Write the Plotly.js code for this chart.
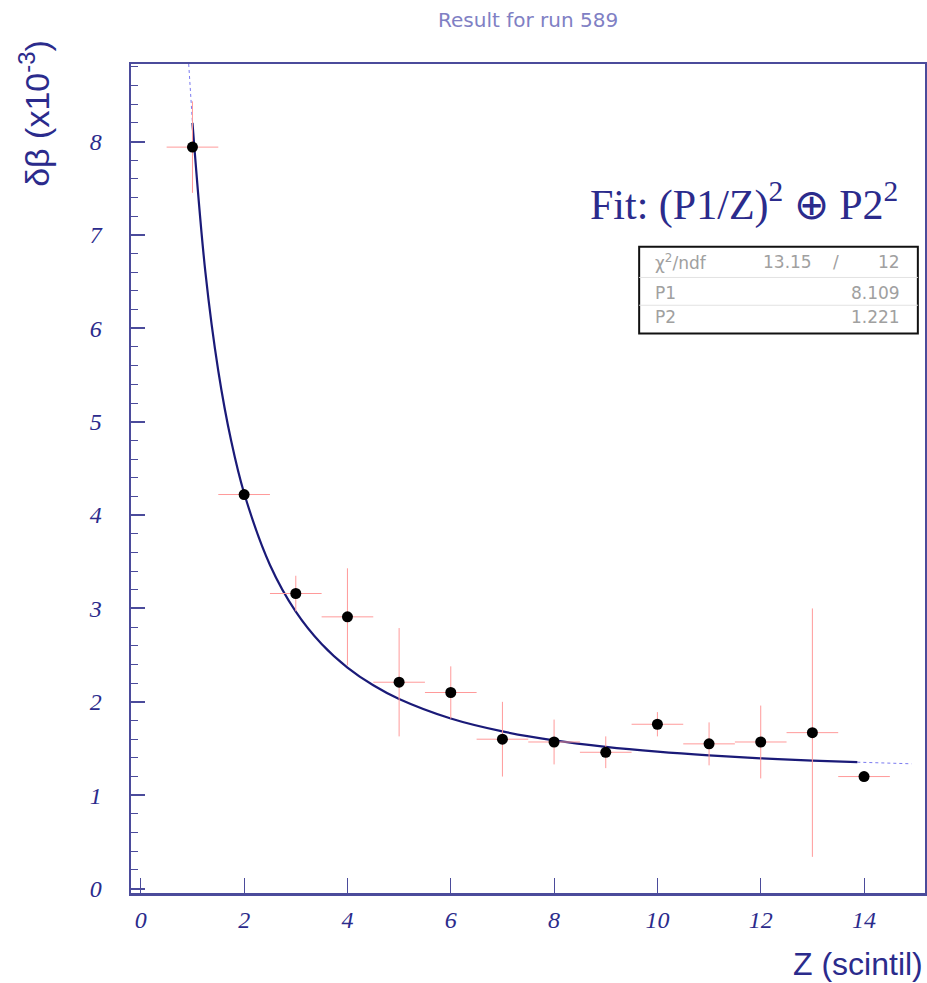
<!DOCTYPE html>
<html>
<head>
<meta charset="utf-8">
<script src="https://cdn.plot.ly/plotly-3.0.1.min.js"></script>
<style>html,body{margin:0;padding:0;background:#fff;}#chart{width:927px;height:983px;}</style>
</head>
<body>
<div id="chart"></div>
<script>
// Measured points
const zValues = [1, 2, 3, 4, 5, 6, 7, 8, 9, 10, 11, 12, 13, 14];
const dBeta = [7.94, 4.22, 3.16, 2.91, 2.21, 2.10, 1.60, 1.57, 1.46, 1.76, 1.55, 1.57, 1.67, 1.20];
const dBetaErr = [0.49, 0.05, 0.19, 0.52, 0.58, 0.28, 0.40, 0.24, 0.17, 0.13, 0.23, 0.39, 1.33, 0.05];
const zErr = [0.5, 0.5, 0.5, 0.5, 0.5, 0.5, 0.5, 0.5, 0.5, 0.5, 0.5, 0.5, 0.5, 0.5];

// Fit curve (fit range)
const fitZ = [1, 1.25, 1.5, 1.75, 2, 2.5, 3, 3.5, 4, 4.5, 5, 6, 7, 8, 9, 10, 11, 12, 13, 13.87];
const fitY = [8.200, 6.601, 5.543, 4.792, 4.234, 3.466, 2.966, 2.619, 2.367, 2.177, 2.030, 1.821, 1.683, 1.587, 1.5175, 1.4658, 1.4263, 1.3956, 1.3712, 1.3538];
// Fit function extension outside the fit range
const extLowZ = [0.927, 0.95, 1.0];
const extLowY = [8.83, 8.62, 8.200];
const extHighZ = [13.87, 14.4, 14.92];
const extHighY = [1.3538, 1.3447, 1.3366];

// Labels
const titleText = 'Result for run 589';
const xTitle = 'Z (scintil)';
const yTitle = 'δβ (x10<sup>-3</sup>)';
const fitLabel = 'Fit: (P1/Z)<sup>2</sup> ⊕ P2<sup>2</sup>';
const statNames = ['χ<sup>2</sup>/ndf', 'P1', 'P2'];
const statValues = ['12', '8.109', '1.221'];
const chi2Value = '13.15';

const navy = '#2b2b8c';
const frame = '#4b4b9b';

const traces = [
  {
    x: extLowZ, y: extLowY, mode: 'lines', type: 'scatter',
    line: {color: '#7a7af0', width: 1, dash: 'dot'}, hoverinfo: 'skip'
  },
  {
    x: extHighZ, y: extHighY, mode: 'lines', type: 'scatter',
    line: {color: '#7a7af0', width: 1, dash: 'dot'}, hoverinfo: 'skip'
  },
  {
    x: fitZ, y: fitY, mode: 'lines', type: 'scatter',
    line: {color: '#1a1a78', width: 2.2, shape: 'spline', smoothing: 1.0}
  },
  {
    x: zValues, y: dBeta, mode: 'markers', type: 'scatter',
    marker: {color: '#000', size: 11},
    error_y: {type: 'data', array: dBetaErr, visible: true, color: '#ff9a9a', thickness: 1, width: 0},
    error_x: {type: 'data', array: zErr, visible: true, color: '#ff9a9a', thickness: 1, width: 0}
  }
];

const tickFont = {family: 'Liberation Serif, Times New Roman, serif', size: 24, color: navy, style: 'italic'};

const annotations = [
  {text: titleText, xref: 'paper', yref: 'paper', x: 0.5, y: 1 + (64 - 20) / 828.7, xanchor: 'center', yanchor: 'middle',
   showarrow: false, font: {family: 'DejaVu Sans, sans-serif', size: 20, color: '#8080c4'}},
  {text: yTitle, xref: 'paper', yref: 'paper', x: (34 - 130.7) / 794.3, y: 1 + (64 - 38) / 828.7, xanchor: 'center', yanchor: 'top',
   textangle: -90, showarrow: false, font: {family: 'Liberation Sans, Arial, sans-serif', size: 34, color: navy}},
  {text: xTitle, xref: 'paper', yref: 'paper', x: 1.0, y: (892.7 - 964) / 828.7, xanchor: 'right', yanchor: 'middle',
   showarrow: false, font: {family: 'Liberation Sans, Arial, sans-serif', size: 32, color: navy}},
  {text: fitLabel, xref: 'paper', yref: 'paper', x: 0.9685, y: 0.834, xanchor: 'right', yanchor: 'middle',
   showarrow: false, font: {family: 'Liberation Serif, Times New Roman, serif', size: 42, color: navy}}
];

const rowY = [0.7614, 0.7233, 0.695];
const statFont = {family: 'DejaVu Sans, sans-serif', size: 17, color: '#a0a0a0'};
for (let i = 0; i < 3; i++) {
  annotations.push({text: statNames[i], xref: 'paper', yref: 'paper', x: 0.657, y: rowY[i], xanchor: 'left', yanchor: 'middle', showarrow: false, font: statFont});
  annotations.push({text: statValues[i], xref: 'paper', yref: 'paper', x: 0.9707, y: rowY[i], xanchor: 'right', yanchor: 'middle', showarrow: false, font: statFont});
}
annotations.push({text: chi2Value, xref: 'paper', yref: 'paper', x: 0.827, y: rowY[0], xanchor: 'center', yanchor: 'middle', showarrow: false, font: statFont});
annotations.push({text: '/', xref: 'paper', yref: 'paper', x: 0.888, y: rowY[0], xanchor: 'center', yanchor: 'middle', showarrow: false, font: statFont});

const shapes = [
  {type: 'rect', xref: 'paper', yref: 'paper', x0: 0.640, x1: 0.991, y0: 0.675, y1: 0.7795,
   line: {color: '#111', width: 2}, fillcolor: 'rgba(255,255,255,1)', layer: 'below'},
  {type: 'line', xref: 'paper', yref: 'paper', x0: 0.640, x1: 0.991, y0: 0.7425, y1: 0.7425, line: {color: '#e2e2e2', width: 1}},
  {type: 'line', xref: 'paper', yref: 'paper', x0: 0.640, x1: 0.991, y0: 0.709, y1: 0.709, line: {color: '#e2e2e2', width: 1}}
];

const layout = {
  width: 927, height: 983,
  margin: {l: 131, r: 2, t: 64, b: 90},
  paper_bgcolor: '#fff', plot_bgcolor: '#fff',
  showlegend: false,
  xaxis: {
    range: [-0.19, 15.18], showgrid: false, zeroline: false,
    showline: true, mirror: true, linecolor: frame, linewidth: 2.5,
    ticks: 'inside', ticklen: 15, tickcolor: frame, tickwidth: 1,
    tickmode: 'array', tickvals: [0, 2, 4, 6, 8, 10, 12, 14], ticktext: ['0','2','4','6','8','10','12','14'],
    tickfont: tickFont, ticklabelstandoff: 4
  },
  yaxis: {
    range: [-0.047, 8.83], showgrid: false, zeroline: false,
    showline: true, mirror: true, linecolor: frame, linewidth: 2.5,
    ticks: 'inside', ticklen: 14, tickcolor: frame, tickwidth: 2,
    tickmode: 'array', tickvals: [0,1,2,3,4,5,6,7,8], ticktext: ['0','1','2','3','4','5','6','7','8'],
    tickfont: tickFont, ticklabelstandoff: 22,
    minor: {dtick: 0.2, tick0: 0, ticks: 'inside', ticklen: 7, tickcolor: frame, tickwidth: 1, showgrid: false}
  },
  annotations: annotations,
  shapes: shapes
};

Plotly.newPlot('chart', traces, layout, {displayModeBar: false, staticPlot: true});
</script>
</body>
</html>
